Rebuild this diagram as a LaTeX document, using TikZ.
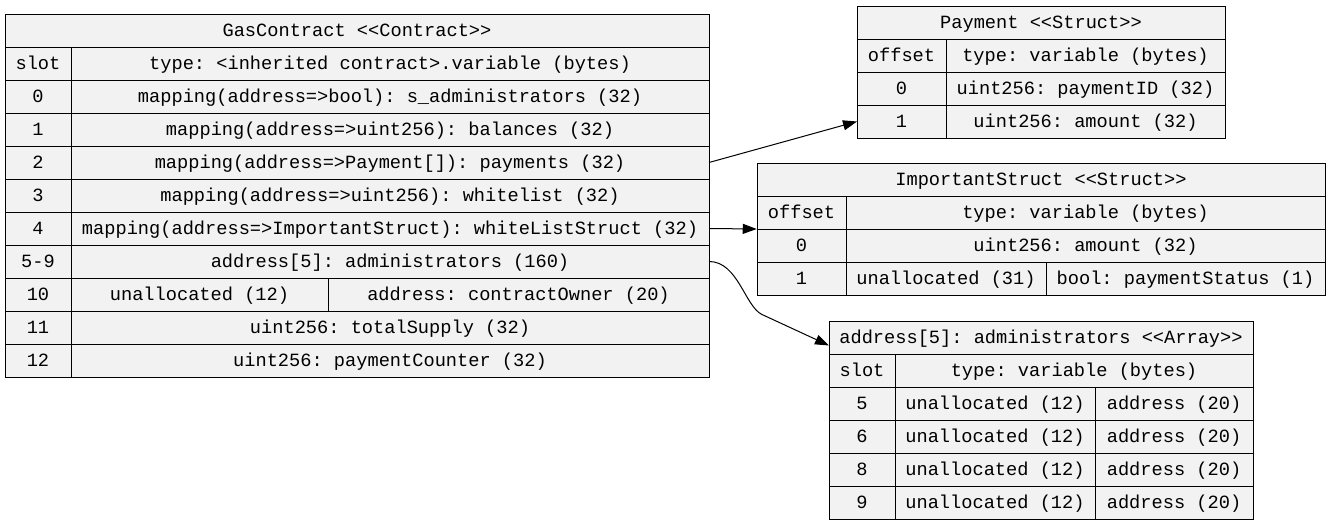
\documentclass[tikz,border=0pt]{standalone}
\usepackage{fontspec}
\setmonofont{Liberation Mono}
\usepackage{tikz}
\usetikzlibrary{
    arrows.meta,
    fit
}
\definecolor{cellfill}{HTML}{F2F2F2}
\tikzset{
  cell/.style = {draw, fill=cellfill, line width=0.75pt, inner sep=0pt,
                 outer sep=0pt, text height=11pt, text depth=2pt,
                 font=\ttfamily\fontsize{14}{16}\selectfont},
  link/.style = {-{Triangle[length=10.5pt,width=7.5pt]}, line width=0.75pt}
}
% one table cell: name, left, top, right, bottom, text
\newcommand{\reccell}[6]{%
  \node[cell, minimum width={(#4-#2)*0.75pt}, minimum height={(#5-#3)*0.75pt}]
    (#1) at ({(#2+#4)/2},{(#3+#5)/2}) {#6};}

\begin{document}
\begin{tikzpicture}[x=0.75pt, y=-0.75pt]
  \useasboundingbox (0,0) rectangle (1331,525);
  % storage of the contract
  \reccell{mh}{5}{14}{709}{47}{GasContract <<Contract>>}
  \reccell{ms}{5}{47}{71}{80}{slot}
  \reccell{mt}{71}{47}{709}{80}{type: <inherited contract>.variable (bytes)}
  \reccell{m0s}{5}{80}{71}{113}{0}
  \reccell{m0t}{71}{80}{709}{113}{mapping(address=>bool): s\_administrators (32)}
  \reccell{m1s}{5}{113}{71}{146}{1}
  \reccell{m1t}{71}{113}{709}{146}{mapping(address=>uint256): balances (32)}
  \reccell{m2s}{5}{146}{71}{179}{2}
  \reccell{m2t}{71}{146}{709}{179}{mapping(address=>Payment[]): payments (32)}
  \reccell{m3s}{5}{179}{71}{212}{3}
  \reccell{m3t}{71}{179}{709}{212}{mapping(address=>uint256): whitelist (32)}
  \reccell{m4s}{5}{212}{71}{245}{4}
  \reccell{m4t}{71}{212}{709}{245}{mapping(address=>ImportantStruct): whiteListStruct (32)}
  \reccell{m5s}{5}{245}{71}{278}{5-9}
  \reccell{m5t}{71}{245}{709}{278}{address[5]: administrators (160)}
  \reccell{m10s}{5}{278}{71}{311}{10}
  \reccell{m10a}{71}{278}{328}{311}{unallocated (12)}
  \reccell{m10b}{328}{278}{709}{311}{address: contractOwner (20)}
  \reccell{m11s}{5}{311}{71}{344}{11}
  \reccell{m11t}{71}{311}{709}{344}{uint256: totalSupply (32)}
  \reccell{m12s}{5}{344}{71}{377}{12}
  \reccell{m12t}{71}{344}{709}{377}{uint256: paymentCounter (32)}

  % Payment struct
  \reccell{ph}{857}{6}{1225}{39}{Payment <<Struct>>}
  \reccell{po}{857}{39}{946}{72}{offset}
  \reccell{pt}{946}{39}{1225}{72}{type: variable (bytes)}
  \reccell{p0o}{857}{72}{946}{105}{0}
  \reccell{p0t}{946}{72}{1225}{105}{uint256: paymentID (32)}
  \reccell{p1o}{857}{105}{946}{138}{1}
  \reccell{p1t}{946}{105}{1225}{138}{uint256: amount (32)}

  % ImportantStruct
  \reccell{ih}{757}{163}{1325}{196}{ImportantStruct <<Struct>>}
  \reccell{io}{757}{196}{846}{229}{offset}
  \reccell{it}{846}{196}{1325}{229}{type: variable (bytes)}
  \reccell{i0o}{757}{229}{846}{262}{0}
  \reccell{i0t}{846}{229}{1325}{262}{uint256: amount (32)}
  \reccell{i1o}{757}{262}{846}{295}{1}
  \reccell{i1a}{846}{262}{1046}{295}{unallocated (31)}
  \reccell{i1b}{1046}{262}{1325}{295}{bool: paymentStatus (1)}
  \node[fit=(ih)(i1b), inner sep=0pt] (imp) {};

  % administrators array
  \reccell{ah}{829}{321}{1253}{354}{address[5]: administrators <<Array>>}
  \reccell{as}{829}{354}{895}{387}{slot}
  \reccell{at}{895}{354}{1253}{387}{type: variable (bytes)}
  \foreach \s/\y in {5/387, 6/420, 8/453, 9/486} {
    \reccell{a\s s}{829}{\y}{895}{\y+33}{\s}
    \reccell{a\s a}{895}{\y}{1095}{\y+33}{unallocated (12)}
    \reccell{a\s b}{1095}{\y}{1253}{\y+33}{address (20)}
  }

  \draw[link] (m2t.east) -- (p1o.west);
  \draw[link] (m4t.east) -- (imp.west);
  \draw[link] (m5t.east) .. controls +(29,0) and +(-17,-8) .. ++(53,53)
    -- ([yshift=-6pt]ah.west);
\end{tikzpicture}
\end{document}
